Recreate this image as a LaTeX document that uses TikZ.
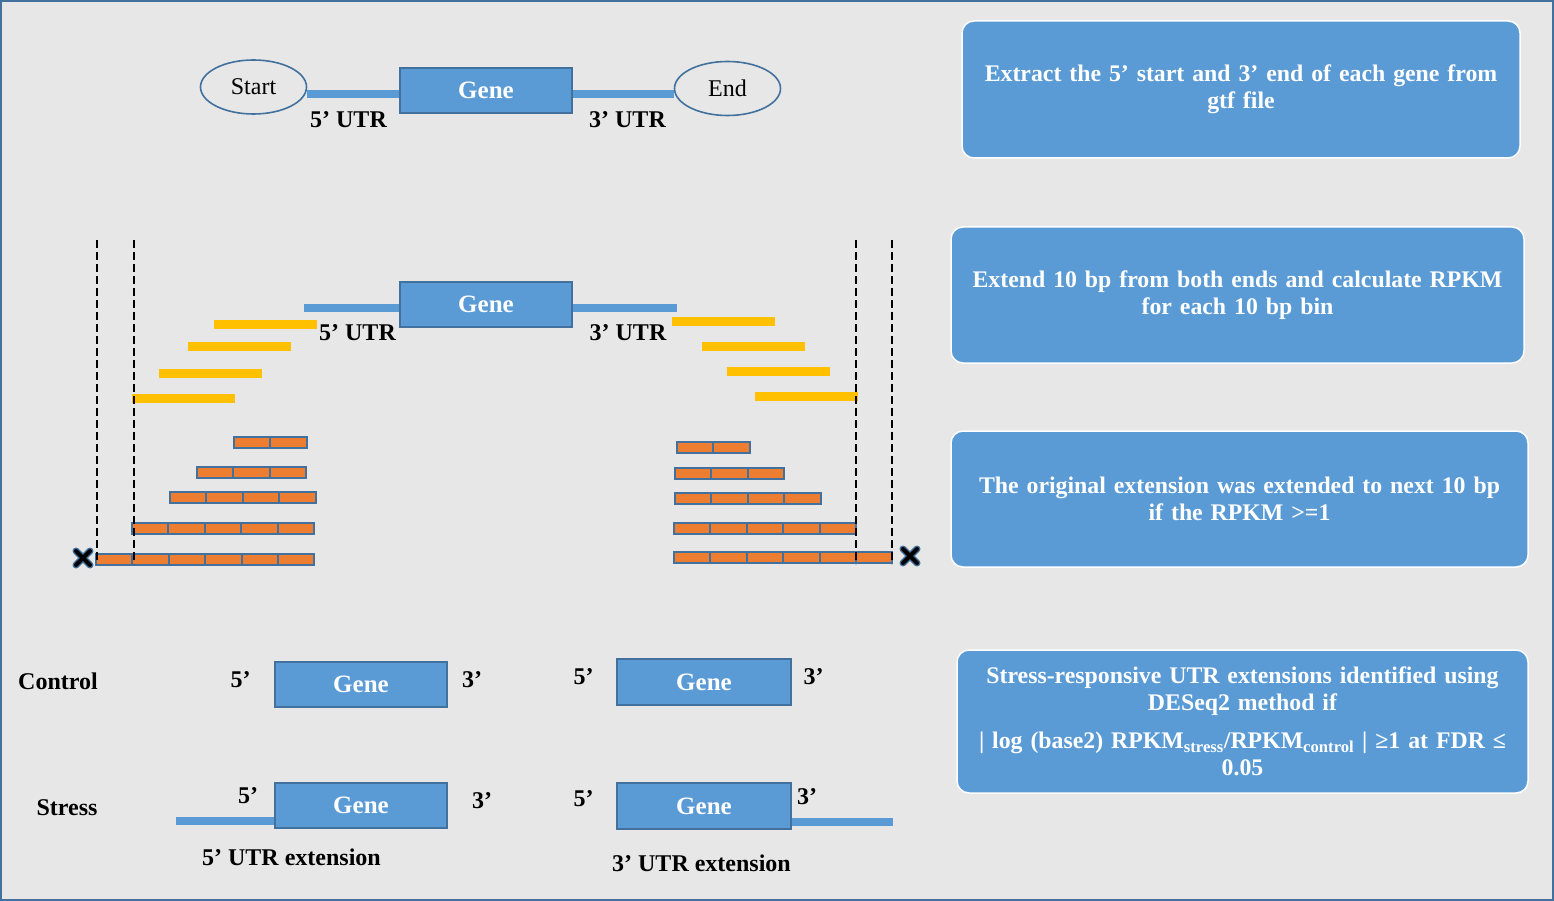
\documentclass[tikz,border=0pt]{standalone}
\usepackage{fontspec}
\setmainfont{Liberation Serif}
\usetikzlibrary{positioning,shapes.geometric}

\definecolor{genebl}{HTML}{5B9BD5}
\definecolor{edgebl}{HTML}{41719C}
\definecolor{readorg}{HTML}{ED7D31}
\definecolor{readyel}{HTML}{FFC000}
\definecolor{bggray}{HTML}{E7E7E7}

\begin{document}
\begin{tikzpicture}[x=1pt,y=-1pt,
    gene/.style={draw=edgebl, line width=1.8pt, fill=genebl, text=white,
        font=\fontsize{25}{28}\selectfont\bfseries,
        minimum width=172pt, minimum height=45pt, inner sep=0pt},
    ends/.style={ellipse, draw=edgebl, line width=1.6pt, fill=bggray,
        minimum width=106pt, minimum height=54pt, inner sep=0pt,
        font=\fontsize{24}{27}\selectfont},
    lbl/.style={font=\fontsize{24}{27}\selectfont\bfseries, inner sep=0pt},
    utr/.style={genebl, line width=8pt},
    stepbox/.style={rounded corners=12pt, draw=white, line width=1.5pt,
        fill=genebl, text=white, font=\fontsize{23.8}{27}\selectfont\bfseries,
        align=center, inner sep=0pt},
    cell/.style={draw=edgebl, line width=2pt, fill=readorg},
    bar/.style={fill=readyel},
    cut/.style={black, line width=2pt, dash pattern=on 8pt off 4pt}
]
    \useasboundingbox (0,0) rectangle (1554,901);
    \fill [bggray] (0,0) rectangle (1554,901);
    \draw [edgebl, line width=2pt] (1,1) rectangle (1553,900);

    %%%%%%%%%%%%%%%% gene with its two ends
    \node [ends] (st) at (253.5,87) {Start};
    \node [ends] (en) at (727.5,88.5) {End};
    \node [gene] (g1) at (486,90.5) {Gene};
    \draw [utr] (st.east |- 0,94) -- (g1.west |- 0,94);
    \draw [utr] (g1.east |- 0,94) -- (en.west |- 0,94);
    \node [lbl] (l5a) at (348.5,120) {5’ UTR};
    \node [lbl] (l3a) at (627.5,120) {3’ UTR};

    %%%%%%%%%%%%%%%% extension by 10 bp bins
    \coordinate (u5) at (304,307.5);
    \coordinate (u3) at (677,307.5);
    \node [gene] (g2) at (486,304.2) {Gene};
    \draw [utr] (u5) -- (u5 -| g2.west);
    \draw [utr] (g2.east |- u3) -- (u3);
    \node [lbl] (l5b) at (357.5,332.5) {5’ UTR};
    \node [lbl] (l3b) at (628,332.5) {3’ UTR};

    \foreach \xa/\yb in {214/324, 188/346, 159/373, 132/398,
                         672/321, 702/346, 727/371, 755/396}
        \fill [bar] (\xa,{\yb-4.5}) rectangle ++(103,9);

    \foreach \xs/\ys/\n in {234/442/2, 197/472/3, 170/497/4, 132/528/5, 96/559/6,
                            677/447/2, 675/473/3, 675/498/4, 674/528/5, 674/557/6}
        \foreach \i in {1,...,\n}
            \draw [cell] ({\xs+(\i-1)*36.4},{\ys-5.5}) rectangle ++(36.4,11);

    \foreach \xd in {97,134,856,892}
        \draw [cut] (\xd,240) -- (\xd,564);

    \coordinate (xl) at (83,558);
    \coordinate (xr) at (910,556);
    \foreach \p in {xl,xr} {
        \draw [edgebl, line width=7pt, line cap=round] (\p) ++(-7,-7) -- ++(14,14) (\p) ++(-7,7) -- ++(14,-14);
        \draw [black, line width=4pt, line cap=round] (\p) ++(-7,-7) -- ++(14,14) (\p) ++(-7,7) -- ++(14,-14);
    }

    %%%%%%%%%%%%%%%% control and stress
    \node [lbl] (ctl) at (58,681) {Control};
    \node [lbl] (str) at (67,807.5) {Stress};

    \node [gene] (g3) at (361,684.5) {Gene};
    \node [lbl] (c5a) at (240.5,679.5) {5’};
    \node [lbl] (c3a) at (472,680) {3’};
    \node [gene, minimum width=174pt, minimum height=46pt] (g5) at (704,682) {Gene};
    \node [lbl] (c5b) at (583.5,676.5) {5’};
    \node [lbl] (c3b) at (813.5,676.5) {3’};

    \coordinate (e5) at (176,820.5);
    \coordinate (e3) at (893,821.5);
    \node [gene] (g4) at (361,805.5) {Gene};
    \draw [utr] (e5) -- (e5 -| g4.west);
    \node [lbl] (s5a) at (248,795.5) {5’};
    \node [lbl] (s3a) at (482,800.5) {3’};
    \node [lbl] (x5) at (291.5,857.5) {5’ UTR extension};
    \node [gene, minimum width=174pt, minimum height=46pt] (g6) at (704,806) {Gene};
    \draw [utr] (g6.east |- e3) -- (e3);
    \node [lbl] (s5b) at (583.5,798.5) {5’};
    \node [lbl] (s3b) at (807,796.5) {3’};
    \node [lbl] (x3) at (701.5,863.5) {3’ UTR extension};

    %%%%%%%%%%%%%%%% steps on the right
    \node [stepbox, text width=558pt, minimum height=137pt] (b1) at (1241,89.5)
        {Extract the 5’ start and 3’ end of each gene from\\gtf file};
    \node [stepbox, text width=573pt, minimum height=136pt] (b2) at (1237.5,295)
        {Extend 10 bp from both ends and calculate RPKM\\for each 10 bp bin};
    \node [stepbox, text width=577pt, minimum height=136pt] (b3) at (1239.5,499)
        {The original extension was extended to next 10 bp\\if the RPKM >=1};
    \node [stepbox, text width=571pt, minimum height=143pt] (b4) at (1242.5,721.5)
        {Stress-responsive UTR extensions identified using\\DESeq2 method if\\[11pt]
         | log (base2) RPKM\textsubscript{stress}/RPKM\textsubscript{control} | ≥1 at FDR ≤\\0.05};
\end{tikzpicture}
\end{document}
